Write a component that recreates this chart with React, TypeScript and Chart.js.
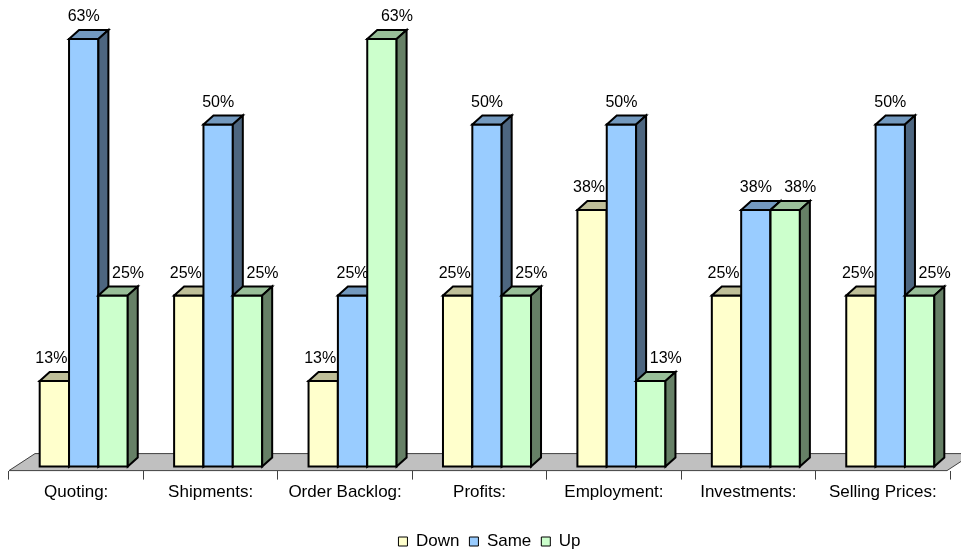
import React, { useEffect, useRef } from "react";
import { Chart, registerables } from "chart.js";

Chart.register(...registerables);

const categories = [
  "Quoting:",
  "Shipments:",
  "Order Backlog:",
  "Profits:",
  "Employment:",
  "Investments:",
  "Selling Prices:",
];
const seriesNames = ["Down", "Same", "Up"];
const downValues = [12.5, 25, 12.5, 25, 37.5, 25, 25];
const sameValues = [62.5, 50, 25, 50, 50, 37.5, 50];
const upValues = [25, 25, 62.5, 25, 12.5, 37.5, 25];

const frontColors = ["#FFFFCC", "#99CCFF", "#CCFFCC"];
const topColors = ["#BFBF99", "#7399BF", "#99BF99"];
const sideColors = ["#80805F", "#4D6680", "#668066"];
const labelShiftX = [-3, 0, 15];

const FONT = "'Liberation Sans', Arial, sans-serif";
const FLOOR_DX = 26;
const FLOOR_DY = -17;
const SHIFT_X = 7.5;
const SHIFT_Y = -4;
const BAR_DX = 10;
const BAR_DY = -9;
const LEGEND_SHIFT = 10;

const pct = (v: number) => Math.round(v) + "%";

const bars3d = {
  id: "bars3d",
  afterLayout(chart: any) {
    if (chart.legend) {
      chart.legend.left += LEGEND_SHIFT;
      chart.legend.right += LEGEND_SHIFT;
    }
  },
  beforeDatasetsDraw(chart: any) {
    const ctx: CanvasRenderingContext2D = chart.ctx;
    const area = chart.chartArea;
    ctx.save();
    // floor
    ctx.beginPath();
    ctx.moveTo(area.left, area.bottom);
    ctx.lineTo(area.right - 3, area.bottom);
    ctx.lineTo(area.right - 3 + FLOOR_DX, area.bottom + FLOOR_DY);
    ctx.lineTo(area.left + FLOOR_DX, area.bottom + FLOOR_DY);
    ctx.closePath();
    ctx.fillStyle = "#C0C0C0";
    ctx.fill();
    ctx.strokeStyle = "#404040";
    ctx.lineWidth = 1;
    ctx.stroke();

    const nData = chart.data.datasets.length;
    const nCat = chart.data.labels.length;

    // value labels (drawn behind bars)
    ctx.font = "16px " + FONT;
    ctx.fillStyle = "#000";
    ctx.textAlign = "center";
    ctx.textBaseline = "alphabetic";
    for (let d = 0; d < nData; d++) {
      const meta = chart.getDatasetMeta(d);
      const vals = chart.data.datasets[d].data;
      meta.data.forEach((el: any, i: number) => {
        ctx.fillText(pct(vals[i]), el.x + SHIFT_X + labelShiftX[d], el.y + SHIFT_Y - 18);
      });
    }

    // bars
    ctx.lineWidth = 2;
    ctx.strokeStyle = "#000";
    ctx.lineJoin = "miter";
    for (let i = 0; i < nCat; i++) {
      for (let d = 0; d < nData; d++) {
        const el: any = chart.getDatasetMeta(d).data[i];
        const left = el.x - el.width / 2 + SHIFT_X;
        const right = el.x + el.width / 2 + SHIFT_X;
        const top = el.y + SHIFT_Y;
        const bottom = el.base + SHIFT_Y;
        // front
        ctx.beginPath();
        ctx.rect(left, top, right - left, bottom - top);
        ctx.fillStyle = frontColors[d];
        ctx.fill();
        ctx.stroke();
        // top
        ctx.beginPath();
        ctx.moveTo(left, top);
        ctx.lineTo(left + BAR_DX, top + BAR_DY);
        ctx.lineTo(right + BAR_DX, top + BAR_DY);
        ctx.lineTo(right, top);
        ctx.closePath();
        ctx.fillStyle = topColors[d];
        ctx.fill();
        ctx.stroke();
        // side
        ctx.beginPath();
        ctx.moveTo(right, top);
        ctx.lineTo(right + BAR_DX, top + BAR_DY);
        ctx.lineTo(right + BAR_DX, bottom + BAR_DY);
        ctx.lineTo(right, bottom);
        ctx.closePath();
        ctx.fillStyle = sideColors[d];
        ctx.fill();
        ctx.stroke();
      }
    }
    ctx.restore();
    return false;
  },
};

export default function App() {
  const ref = useRef<HTMLCanvasElement>(null);
  useEffect(() => {
    document.body.style.margin = "0";
    const seriesValues = [downValues, sameValues, upValues];
    const chart = new Chart(ref.current as HTMLCanvasElement, {
      type: "bar",
      data: {
        labels: categories,
        datasets: seriesNames.map((name, d) => ({
          label: name,
          data: seriesValues[d],
          backgroundColor: frontColors[d],
          borderColor: "#000",
          borderWidth: 1,
          barPercentage: 1,
          categoryPercentage: 0.655,
        })),
      },
      options: {
        responsive: false,
        animation: false,
        devicePixelRatio: 1,
        layout: { padding: { top: 0, left: 9, right: 11, bottom: -7 } },
        plugins: {
          legend: {
            position: "bottom",
            labels: {
              boxWidth: 9,
              boxHeight: 9,
              padding: 10,
              color: "#000",
              font: { family: FONT, size: 17 },
            },
          },
          tooltip: { enabled: false },
        },
        scales: {
          x: {
            grid: {
              offset: true,
              drawOnChartArea: false,
              drawTicks: true,
              tickLength: 9,
              color: "#404040",
            },
            border: { display: false },
            ticks: {
              color: "#000",
              padding: 3,
              maxRotation: 0,
              autoSkip: false,
              font: { family: FONT, size: 17 },
            },
            afterFit: (scale: any) => {
              scale.height += 17;
            },
          },
          y: {
            display: false,
            min: 0,
            max: 68.8,
          },
        },
      },
      plugins: [bars3d],
    });
    return () => chart.destroy();
  }, []);
  return (
    <div style={{ width: 961, height: 553 }}>
      <canvas ref={ref} width={961} height={553} style={{ display: "block" }} />
    </div>
  );
}
